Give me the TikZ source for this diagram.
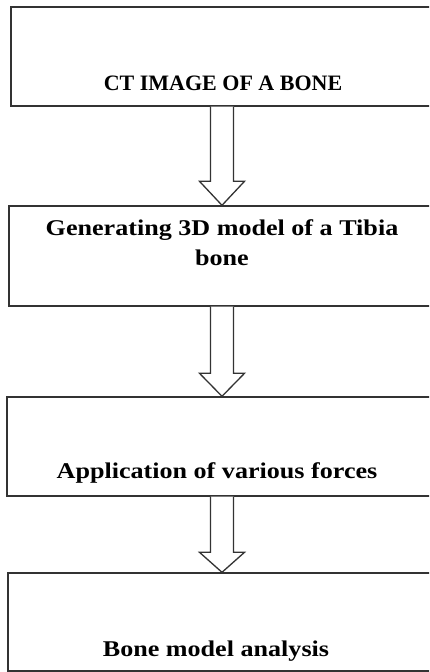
\documentclass[tikz,border=0pt]{standalone}
\usepackage{fontspec}
\setmainfont{Liberation Serif}
\newfontfamily\widefont{Liberation Serif}[FakeStretch=1.16]
\usetikzlibrary{calc}
\definecolor{boxgray}{HTML}{333333}
\newcommand{\hollowarr}[3]{%
  \draw[hollow] ($(#1)+(-11.5,0)$) -- ($(#2)+(-11.5,-#3)$) -- ($(#2)+(-22.5,-#3)$) -- (#2)
    -- ($(#2)+(22.5,-#3)$) -- ($(#2)+(11.5,-#3)$) -- ($(#1)+(11.5,0)$);}
\begin{document}
\begin{tikzpicture}[x=1pt,y=-1pt,
  box/.style={draw=boxgray, line width=1.4pt, inner sep=0pt},
  lbl/.style={font=\fontsize{22}{30}\selectfont\bfseries, anchor=base, inner sep=0pt, align=center},
  wlbl/.style={lbl, font=\widefont\fontsize{22.5}{30}\selectfont\bfseries},
  hollow/.style={draw=boxgray, line width=1.3pt, fill=white, line join=miter}]
\clip (0,0) rectangle (429,672);
\fill[white] (0,0) rectangle (429,672);
\node[box, minimum width=434, minimum height=99] (b1) at (228,56.5) {};
\node[box, minimum width=436, minimum height=100] (b2) at (227,256) {};
\node[box, minimum width=438, minimum height=99] (b3) at (226,446.5) {};
\node[box, minimum width=437, minimum height=98] (b4) at (226.5,622) {};
\coordinate (ax) at (222,0);
\coordinate (a1s) at (b1.south -| ax); \coordinate (a1e) at (b2.north -| ax);
\coordinate (a2s) at (b2.south -| ax); \coordinate (a2e) at (b3.north -| ax);
\coordinate (a3s) at (b3.south -| ax); \coordinate (a3e) at (b4.north -| ax);
\hollowarr{a1s}{a1e}{24}
\hollowarr{a2s}{a2e}{23}
\hollowarr{a3s}{a3e}{20}
\node[lbl] (t1) at (223,90) {CT IMAGE OF A BONE};
\node[wlbl] (t2) at (222,265) {Generating 3D model of a Tibia\\bone};
\node[wlbl] (t3) at (217,478) {Application of various forces};
\node[wlbl] (t4) at (216,656) {Bone model analysis};
\end{tikzpicture}
\end{document}
